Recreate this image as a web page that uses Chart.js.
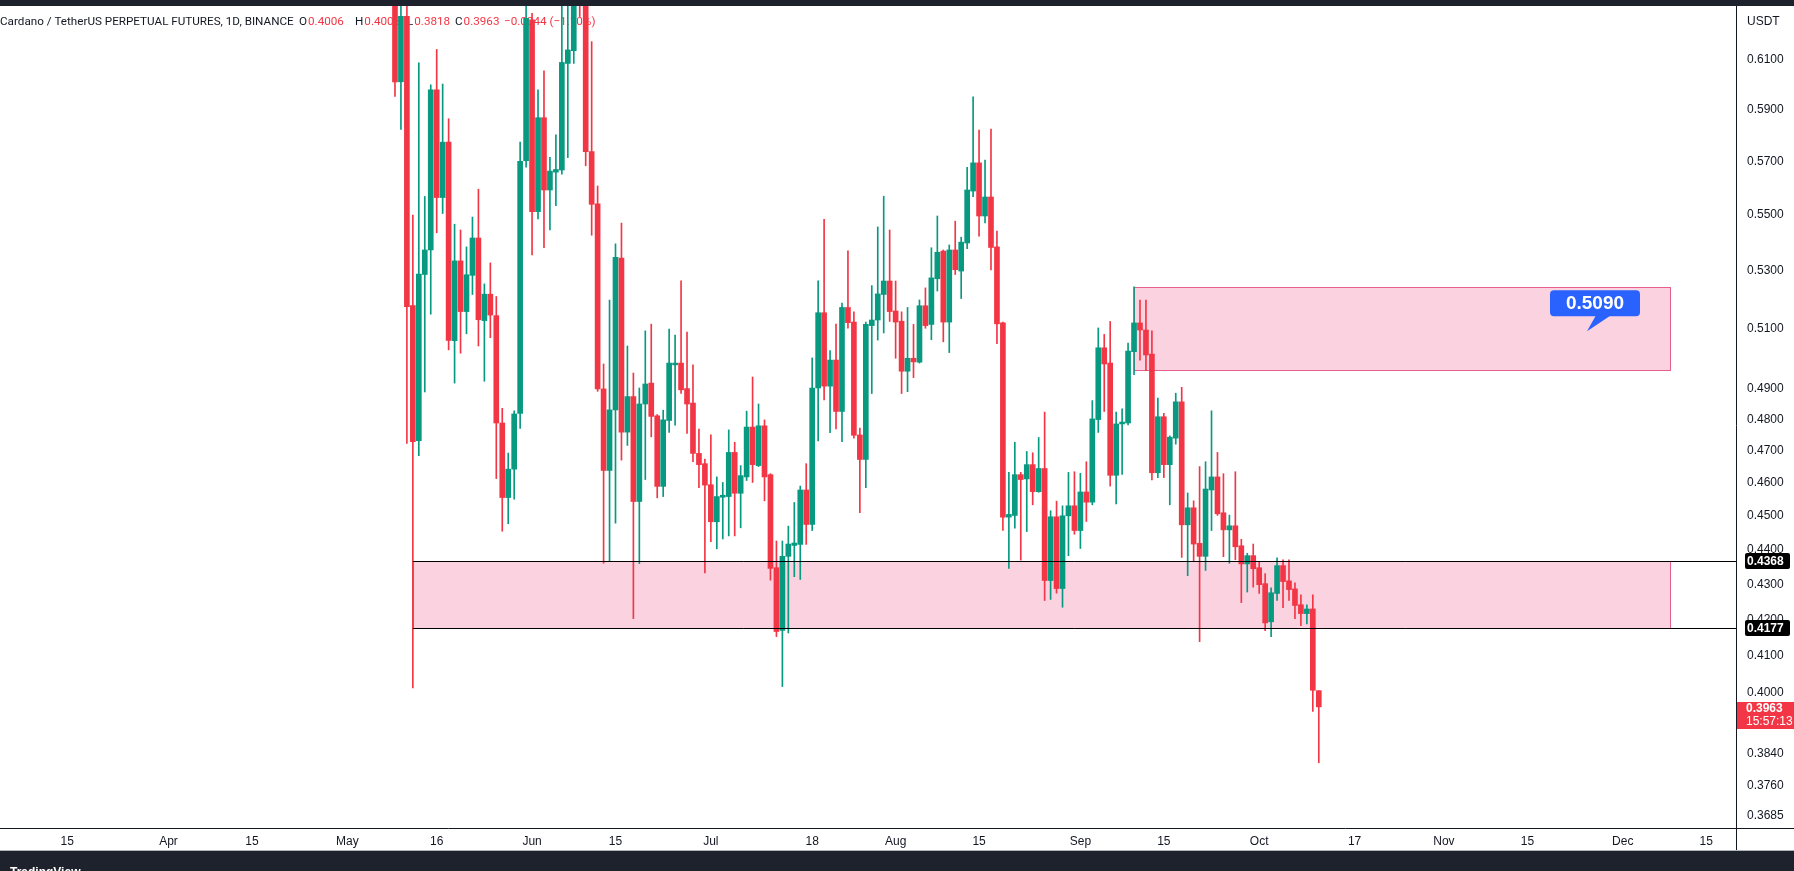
<!DOCTYPE html>
<html>
<head>
<meta charset="utf-8">
<title>ADAUSDT.P 1D</title>
<script src="https://cdn.jsdelivr.net/npm/chart.js@4.4.0/dist/chart.umd.min.js"></script>
<style>
  html, body { margin: 0; padding: 0; background: #fff; overflow: hidden; }
  #wrap { position: absolute; left: 0; top: 0; width: 1794px; height: 871px; }
</style>
</head>
<body>
<div id="wrap"><canvas id="chart"></canvas></div>
<script>
"use strict";

// ===== Data =====
const dates = [
  '2022-05-09','2022-05-10','2022-05-11','2022-05-12','2022-05-13','2022-05-14','2022-05-15','2022-05-16',
  '2022-05-17','2022-05-18','2022-05-19','2022-05-20','2022-05-21','2022-05-22','2022-05-23','2022-05-24',
  '2022-05-25','2022-05-26','2022-05-27','2022-05-28','2022-05-29','2022-05-30','2022-05-31',
  '2022-06-01','2022-06-02','2022-06-03','2022-06-04','2022-06-05','2022-06-06','2022-06-07','2022-06-08',
  '2022-06-09','2022-06-10','2022-06-11','2022-06-12','2022-06-13','2022-06-14','2022-06-15','2022-06-16',
  '2022-06-17','2022-06-18','2022-06-19','2022-06-20','2022-06-21','2022-06-22','2022-06-23','2022-06-24',
  '2022-06-25','2022-06-26','2022-06-27','2022-06-28','2022-06-29','2022-06-30',
  '2022-07-01','2022-07-02','2022-07-03','2022-07-04','2022-07-05','2022-07-06','2022-07-07','2022-07-08',
  '2022-07-09','2022-07-10','2022-07-11','2022-07-12','2022-07-13','2022-07-14','2022-07-15','2022-07-16',
  '2022-07-17','2022-07-18','2022-07-19','2022-07-20','2022-07-21','2022-07-22','2022-07-23','2022-07-24',
  '2022-07-25','2022-07-26','2022-07-27','2022-07-28','2022-07-29','2022-07-30','2022-07-31',
  '2022-08-01','2022-08-02','2022-08-03','2022-08-04','2022-08-05','2022-08-06','2022-08-07','2022-08-08',
  '2022-08-09','2022-08-10','2022-08-11','2022-08-12','2022-08-13','2022-08-14','2022-08-15','2022-08-16',
  '2022-08-17','2022-08-18','2022-08-19','2022-08-20','2022-08-21','2022-08-22','2022-08-23','2022-08-24',
  '2022-08-25','2022-08-26','2022-08-27','2022-08-28','2022-08-29','2022-08-30','2022-08-31',
  '2022-09-01','2022-09-02','2022-09-03','2022-09-04','2022-09-05','2022-09-06','2022-09-07','2022-09-08',
  '2022-09-09','2022-09-10','2022-09-11','2022-09-12','2022-09-13','2022-09-14','2022-09-15','2022-09-16',
  '2022-09-17','2022-09-18','2022-09-19','2022-09-20','2022-09-21','2022-09-22','2022-09-23','2022-09-24',
  '2022-09-25','2022-09-26','2022-09-27','2022-09-28','2022-09-29','2022-09-30',
  '2022-10-01','2022-10-02','2022-10-03','2022-10-04','2022-10-05','2022-10-06','2022-10-07','2022-10-08',
  '2022-10-09','2022-10-10','2022-10-11'
];

const opens = [
  // May
  0.6950,0.6010,0.6278,0.5178,0.4732,0.5286,0.5373,0.5978,0.5564,0.5773,0.5058,0.5334,0.5157,0.5283,0.5416,0.5126,
  0.5217,0.5143,0.4788,0.4556,0.4643,0.4819,0.5702,
  // Jun
  0.6263,0.5512,0.5868,0.5592,0.5659,0.5667,0.6084,0.6136,0.6550,0.6400,0.5737,0.5541,0.4898,0.4639,0.4830,0.5344,
  0.4759,0.4873,0.4544,0.4849,0.4917,0.4811,0.4590,0.4796,0.4977,0.4983,0.4899,0.4852,0.4692,0.4660,
  // Jul
  0.4595,0.4483,0.4557,0.4559,0.4695,0.4569,0.4619,0.4775,0.4654,0.4779,0.4626,0.4348,0.4170,0.4381,0.4413,0.4416,
  0.4579,0.4475,0.4901,0.5153,0.4907,0.4993,0.4825,0.5171,0.5121,0.4750,0.4673,0.5109,0.5128,0.5216,0.5263,
  // Aug
  0.5159,0.5124,0.4956,0.4999,0.4986,0.5177,0.5113,0.5271,0.5369,0.5121,0.5373,0.5298,0.5398,0.5588,0.5694,0.5496,
  0.5566,0.5384,0.5118,0.4497,0.4502,0.4626,0.4613,0.4657,0.4574,0.4645,0.4311,0.4498,0.4288,0.4501,0.4531,
  // Sep
  0.4457,0.4573,0.4542,0.4799,0.5034,0.4983,0.4624,0.4785,0.4788,0.5021,0.5118,0.5094,0.5013,0.4632,0.4808,0.4657,
  0.4740,0.4856,0.4474,0.4525,0.4419,0.4381,0.4579,0.4619,0.4510,0.4459,0.4471,0.4412,0.4359,0.4383,
  // Oct
  0.4348,0.4302,0.4194,0.4274,0.4354,0.4310,0.4287,0.4242,0.4217,0.4230,0.4006
];

const highs = [
  0.7060,0.6500,0.6420,0.5499,0.6086,0.5568,0.5998,0.6141,0.6001,0.5864,0.5466,0.5445,0.5384,0.5492,0.5595,0.5253,
  0.5327,0.5209,0.4835,0.4693,0.4827,0.5773,0.6400,
  0.6290,0.5978,0.6054,0.5715,0.5801,0.6400,0.6450,0.6700,0.6650,0.6450,0.6173,0.5607,0.4980,0.5197,0.5395,0.5470,
  0.5040,0.4950,0.4901,0.5091,0.5114,0.4815,0.4829,0.5097,0.5077,0.5264,0.5087,0.4977,0.4769,0.4674,
  0.4750,0.4619,0.4602,0.4766,0.4727,0.4654,0.4826,0.4937,0.4849,0.4798,0.4629,0.4426,0.4426,0.4470,0.4541,0.4591,
  0.4660,0.5000,0.5264,0.5484,0.5025,0.5114,0.5186,0.5370,0.5156,0.4772,0.5121,0.5247,0.5456,0.5569,0.5445,
  0.5263,0.5156,0.5171,0.5113,0.5197,0.5239,0.5381,0.5496,0.5373,0.5391,0.5477,0.5419,0.5677,0.5950,0.5820,0.5705,
  0.5824,0.5441,0.5121,0.4633,0.4727,0.4633,0.4698,0.4694,0.4742,0.4823,0.4516,0.4545,0.4531,0.4633,0.4635,
  0.4630,0.4666,0.4860,0.5101,0.5079,0.5123,0.4823,0.4833,0.5050,0.5243,0.5197,0.5197,0.5091,0.4868,0.4819,0.4747,
  0.4884,0.4903,0.4570,0.4546,0.4651,0.4666,0.4827,0.4695,0.4629,0.4503,0.4635,0.4431,0.4390,0.4417,
  0.4364,0.4331,0.4290,0.4377,0.4371,0.4371,0.4304,0.4270,0.4242,0.4270,0.4006
];

const lows = [
  0.5952,0.5822,0.4723,0.4013,0.4685,0.4888,0.5148,0.5435,0.5505,0.5027,0.4917,0.5016,0.5081,0.5216,0.5040,0.4923,
  0.5068,0.4614,0.4455,0.4477,0.4551,0.4771,0.5678,
  0.5355,0.5485,0.5381,0.5445,0.5534,0.5651,0.5714,0.6084,0.6277,0.5683,0.5426,0.4890,0.4361,0.4366,0.4479,0.4671,
  0.4717,0.4203,0.4360,0.4611,0.4744,0.4555,0.4559,0.4758,0.4781,0.4883,0.4755,0.4666,0.4586,0.4333,
  0.4424,0.4403,0.4432,0.4441,0.4441,0.4465,0.4608,0.4602,0.4651,0.4546,0.4312,0.4153,0.4017,0.4163,0.4322,0.4314,
  0.4416,0.4457,0.4731,0.4862,0.4757,0.4769,0.4729,0.5100,0.4740,0.4510,0.4586,0.4883,0.5060,0.5084,0.5123,
  0.4999,0.4883,0.4889,0.4935,0.4983,0.5100,0.5061,0.5228,0.5054,0.5018,0.5286,0.5202,0.5378,0.5567,0.5423,0.5471,
  0.5302,0.5048,0.4457,0.4346,0.4464,0.4370,0.4454,0.4534,0.4572,0.4254,0.4257,0.4275,0.4235,0.4383,0.4446,
  0.4404,0.4484,0.4534,0.4758,0.4825,0.4591,0.4537,0.4627,0.4782,0.4945,0.4993,0.4958,0.4610,0.4617,0.4617,0.4534,
  0.4721,0.4378,0.4325,0.4367,0.4139,0.4340,0.4457,0.4502,0.4380,0.4361,0.4371,0.4248,0.4278,0.4292,
  0.4274,0.4169,0.4153,0.4254,0.4234,0.4254,0.4203,0.4183,0.4188,0.3951,0.3818
];

const closes = [
  0.6010,0.6278,0.5174,0.4729,0.5287,0.5373,0.5978,0.5564,0.5773,0.5059,0.5334,0.5157,0.5285,0.5416,0.5129,0.5217,
  0.5145,0.4788,0.4556,0.4643,0.4817,0.5700,0.6270,
  0.5512,0.5868,0.5592,0.5663,0.5669,0.6088,0.6139,0.6550,0.6400,0.5737,0.5539,0.4898,0.4639,0.4830,0.5347,0.4759,
  0.4873,0.4544,0.4849,0.4914,0.4809,0.4590,0.4798,0.4983,0.4983,0.4895,0.4849,0.4692,0.4657,0.4594,
  0.4483,0.4559,0.4563,0.4695,0.4569,0.4623,0.4775,0.4657,0.4779,0.4619,0.4346,0.4167,0.4381,0.4417,0.4420,0.4579,
  0.4475,0.4901,0.5153,0.4907,0.4993,0.4825,0.5171,0.5119,0.4749,0.4673,0.5113,0.5128,0.5218,0.5263,0.5157,
  0.5121,0.4956,0.4999,0.4987,0.5177,0.5109,0.5274,0.5365,0.5121,0.5373,0.5303,0.5401,0.5592,0.5694,0.5496,0.5566,
  0.5382,0.5115,0.4497,0.4505,0.4626,0.4611,0.4657,0.4574,0.4645,0.4311,0.4498,0.4288,0.4501,0.4531,0.4457,
  0.4573,0.4542,0.4801,0.5034,0.4980,0.4624,0.4785,0.4791,0.5023,0.5118,0.5094,0.5010,0.4632,0.4808,0.4657,0.4743,
  0.4856,0.4474,0.4525,0.4417,0.4381,0.4582,0.4619,0.4507,0.4459,0.4471,0.4409,0.4359,0.4383,0.4345,
  0.4299,0.4191,0.4276,0.4354,0.4308,0.4285,0.4240,0.4217,0.4230,0.4007,0.3963
];

// axis ticks
const xTickDates  = ['2022-03-15','2022-04-01','2022-04-15','2022-05-01','2022-05-16','2022-06-01','2022-06-15',
                     '2022-07-01','2022-07-18','2022-08-01','2022-08-15','2022-09-01','2022-09-15','2022-10-01',
                     '2022-10-17','2022-11-01','2022-11-15','2022-12-01','2022-12-15'];
const xTickLabels = ['15','Apr','15','May','16','Jun','15','Jul','18','Aug','15','Sep','15','Oct','17','Nov','15','Dec','15'];
const yTicks = [0.61, 0.59, 0.57, 0.55, 0.53, 0.51, 0.49, 0.48, 0.47, 0.46, 0.45, 0.44, 0.43, 0.42, 0.41, 0.40,
                0.384, 0.376, 0.3685];

// drawings on the chart
const zones = [
  { from: '2022-09-10', to: '2022-12-09', top: 0.5243, bottom: 0.4960 },
  { from: '2022-05-12', to: '2022-12-09', top: 0.4368, bottom: 0.4177 }
];
const levels = [
  { from: '2022-05-12', price: 0.4368 },
  { from: '2022-05-12', price: 0.4177 }
];
const callout = { date: '2022-11-25', price: 0.5090, text: '0.5090' };
const lastPrice = { price: 0.3963, countdown: '15:57:13' };

const legend = {
  name: 'Cardano / TetherUS PERPETUAL FUTURES, 1D, BINANCE',
  o: '0.4006', h: '0.4006', l: '0.3818', c: '0.3963', chg: '\u22120.0044 (\u22121.10%)'
};

// visible window (days from 2022-04-01) and price range
const X_MIN = -28.27, X_MAX = 263.0;
const Y_MIN = 0.36557, Y_MAX = 0.63213;

// ===== Styles =====
const GREEN = '#089981';
const RED = '#F23645';
const TEXT = '#131722';
const FONT = '"Liberation Sans", Arial, sans-serif';
const HEAD_FONT = 'Roboto, "Liberation Sans", sans-serif';
const ZONE_FILL = 'rgba(233, 30, 99, 0.2)';
const ZONE_LINE = 'rgba(226, 70, 125, 0.85)';

// ===== Utils =====
const ORIGIN = Date.UTC(2022, 3, 1);
function dayOf(s) {
  return (Date.parse(s + 'T00:00:00Z') - ORIGIN) / 864e5;
}

function roundRect(ctx, x, y, w, h, r) {
  ctx.beginPath();
  ctx.moveTo(x + r, y);
  ctx.lineTo(x + w - r, y);
  ctx.quadraticCurveTo(x + w, y, x + w, y + r);
  ctx.lineTo(x + w, y + h - r);
  ctx.quadraticCurveTo(x + w, y + h, x + w - r, y + h);
  ctx.lineTo(x + r, y + h);
  ctx.quadraticCurveTo(x, y + h, x, y + h - r);
  ctx.lineTo(x, y + r);
  ctx.quadraticCurveTo(x, y, x + r, y);
  ctx.closePath();
}

const colors = closes.map((c, i) => (c >= opens[i] ? GREEN : RED));

// ===== Overlay plugin =====
const tvOverlay = {
  id: 'tvOverlay',
  beforeDraw(chart) {
    const ctx = chart.ctx;
    ctx.save();
    ctx.fillStyle = '#ffffff';
    ctx.fillRect(0, 0, chart.width, chart.height);
    ctx.restore();
  },
  beforeDatasetsDraw(chart) {
    const { ctx, scales: { x, y } } = chart;
    ctx.save();
    // zones
    zones.forEach((z) => {
      const x1 = Math.round(x.getPixelForValue(dayOf(z.from))) + 0.5;
      const x2 = Math.round(x.getPixelForValue(dayOf(z.to))) + 0.5;
      const y1 = Math.round(y.getPixelForValue(z.top)) + 0.5;
      const y2 = Math.round(y.getPixelForValue(z.bottom)) + 0.5;
      ctx.fillStyle = ZONE_FILL;
      ctx.fillRect(x1, y1, x2 - x1, y2 - y1);
      ctx.strokeStyle = ZONE_LINE;
      ctx.lineWidth = 1;
      ctx.strokeRect(x1, y1, x2 - x1, y2 - y1);
    });
    // legend line
    ctx.font = '13px ' + HEAD_FONT;
    const nameW = ctx.measureText(legend.name).width;
    const size = 13 * 294 / nameW;
    ctx.font = size + 'px ' + HEAD_FONT;
    ctx.textBaseline = 'middle';
    ctx.textAlign = 'left';
    const ty = 22;
    ctx.fillStyle = TEXT;
    ctx.fillText(legend.name, 0, ty);
    const pairs = [['O', legend.o, 299], ['H', legend.h, 355], ['L', legend.l, 407], ['C', legend.c, 455]];
    pairs.forEach(([k, v, px]) => {
      ctx.fillStyle = TEXT;
      ctx.fillText(k, px, ty);
      const kw = ctx.measureText(k).width;
      ctx.fillStyle = RED;
      ctx.fillText(v, px + kw + 1, ty);
    });
    ctx.fillStyle = RED;
    ctx.fillText(legend.chg, 504, ty);
    ctx.restore();
  },
  afterDatasetsDraw(chart) {
    const { ctx, chartArea, scales: { x, y } } = chart;
    ctx.save();
    ctx.strokeStyle = '#000000';
    ctx.lineWidth = 1;
    levels.forEach((lv) => {
      const py = Math.round(y.getPixelForValue(lv.price)) + 0.5;
      const px = x.getPixelForValue(dayOf(lv.from));
      ctx.beginPath();
      ctx.moveTo(px, py);
      ctx.lineTo(chartArea.right, py);
      ctx.stroke();
    });
    ctx.restore();
  },
  afterDraw(chart) {
    const { ctx, chartArea, scales: { x, y } } = chart;
    const W = chart.width, H = chart.height;
    ctx.save();
    // axis borders
    ctx.strokeStyle = TEXT;
    ctx.lineWidth = 1;
    ctx.beginPath();
    ctx.moveTo(chartArea.right + 0.5, 0);
    ctx.lineTo(chartArea.right + 0.5, 851);
    ctx.moveTo(0, chartArea.bottom + 0.5);
    ctx.lineTo(W, chartArea.bottom + 0.5);
    ctx.stroke();

    // currency
    ctx.font = '12px ' + FONT;
    ctx.fillStyle = TEXT;
    ctx.textBaseline = 'middle';
    ctx.textAlign = 'left';
    ctx.fillText('USDT', chartArea.right + 11, 22);

    // level price labels
    ctx.font = 'bold 12px ' + FONT;
    levels.forEach((lv) => {
      const py = Math.round(y.getPixelForValue(lv.price));
      ctx.fillStyle = '#000000';
      roundRect(ctx, chartArea.right + 9, py - 8, 45, 16, 2);
      ctx.fill();
      ctx.fillStyle = '#ffffff';
      ctx.fillText(lv.price.toFixed(4), chartArea.right + 11, py + 0.5);
    });

    // last price label
    const ly = Math.round(y.getPixelForValue(lastPrice.price));
    ctx.fillStyle = RED;
    ctx.fillRect(chartArea.right + 1, ly - 5, W - chartArea.right - 1, 27);
    ctx.fillStyle = '#ffffff';
    ctx.font = 'bold 12px ' + FONT;
    ctx.fillText(lastPrice.price.toFixed(4), chartArea.right + 10, ly + 2);
    ctx.font = '12px ' + FONT;
    ctx.fillText(lastPrice.countdown, chartArea.right + 10, ly + 15);

    // callout
    const cx = x.getPixelForValue(dayOf(callout.date));
    const cy = y.getPixelForValue(callout.price);
    const bx = cx - 37, by = cy - 41, bw = 90, bh = 26;
    ctx.fillStyle = '#2962FF';
    roundRect(ctx, bx, by, bw, bh, 4);
    ctx.fill();
    ctx.beginPath();
    ctx.moveTo(cx + 9, by + bh - 1);
    ctx.lineTo(cx + 24, by + bh - 1);
    ctx.lineTo(cx, cy);
    ctx.closePath();
    ctx.fill();
    ctx.fillStyle = '#ffffff';
    ctx.font = 'bold 19px ' + FONT;
    ctx.textAlign = 'center';
    ctx.fillText(callout.text, bx + bw / 2, by + bh / 2 + 1);

    // top and bottom bars
    ctx.fillStyle = '#1E222D';
    ctx.fillRect(0, 0, W, 6);
    ctx.fillRect(0, 851, W, H - 851);
    ctx.fillStyle = '#B2B5BE';
    ctx.fillRect(0, 850, W, 1);
    ctx.fillStyle = '#ffffff';
    ctx.font = 'bold 12px ' + FONT;
    ctx.textAlign = 'left';
    ctx.textBaseline = 'top';
    ctx.fillText('TradingView', 10, 867);
    ctx.restore();
  }
};

// ===== Chart =====
new Chart(document.getElementById('chart'), {
  type: 'bar',
  data: {
    datasets: [
      {
        label: 'body',
        data: dates.map((d, i) => ({ x: dayOf(d), y: [opens[i], closes[i]] })),
        backgroundColor: colors,
        borderWidth: 0,
        barThickness: 5,
        minBarLength: 1,
        grouped: false
      },
      {
        label: 'wick',
        data: dates.map((d, i) => ({ x: dayOf(d), y: [lows[i], highs[i]] })),
        backgroundColor: colors,
        borderWidth: 0,
        barThickness: 1,
        grouped: false
      }
    ]
  },
  options: {
    responsive: true,
    maintainAspectRatio: false,
    animation: false,
    events: [],
    layout: { padding: { top: 6, bottom: 20, left: 0, right: 0 } },
    scales: {
      x: {
        type: 'linear',
        min: X_MIN,
        max: X_MAX,
        offset: false,
        grid: { display: false, drawTicks: false },
        border: { display: false },
        afterBuildTicks: (s) => { s.ticks = xTickDates.map((d) => ({ value: dayOf(d) })); },
        afterFit: (s) => { s.height = 23; s.paddingLeft = 0; s.paddingRight = 0; },
        ticks: {
          autoSkip: false,
          maxRotation: 0,
          padding: 6,
          color: TEXT,
          font: { family: FONT, size: 12 },
          callback: (v, i) => xTickLabels[i]
        }
      },
      y: {
        type: 'logarithmic',
        position: 'right',
        min: Y_MIN,
        max: Y_MAX,
        grid: { display: false, drawTicks: false },
        border: { display: false },
        afterBuildTicks: (s) => { s.ticks = yTicks.map((v) => ({ value: v })); },
        afterFit: (s) => { s.width = 58; s.paddingTop = 0; s.paddingBottom = 0; },
        ticks: {
          autoSkip: false,
          padding: 11,
          color: TEXT,
          font: { family: FONT, size: 12 },
          callback: (v) => Number(v).toFixed(4)
        }
      }
    },
    plugins: {
      legend: { display: false },
      tooltip: { enabled: false }
    }
  },
  plugins: [tvOverlay]
});
</script>
</body>
</html>
